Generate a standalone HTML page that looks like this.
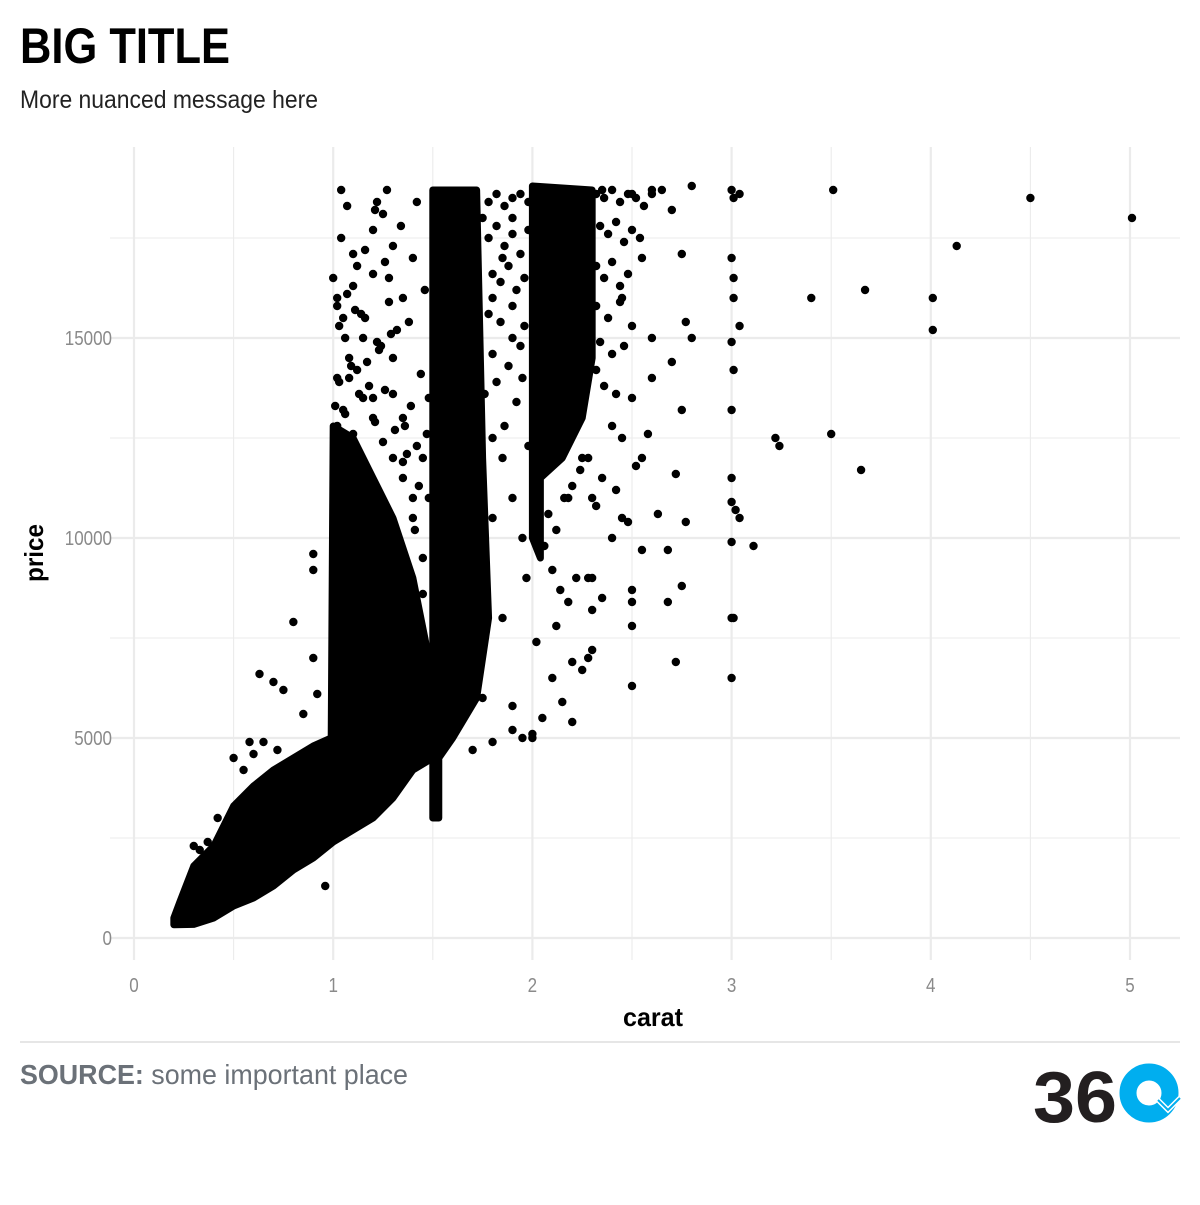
<!DOCTYPE html>
<html><head><meta charset="utf-8"><style>
body{margin:0;background:#fff;width:1200px;height:1200px;overflow:hidden;font-family:"Liberation Sans",sans-serif;}
</style></head><body>
<svg id="c" width="1200" height="1200" xmlns="http://www.w3.org/2000/svg" font-family="Liberation Sans, sans-serif">
<text x="20" y="63" font-size="50" font-weight="bold" fill="#000" textLength="210" lengthAdjust="spacingAndGlyphs">BIG TITLE</text>
<text x="20" y="108" font-size="25" fill="#222" textLength="298" lengthAdjust="spacingAndGlyphs">More nuanced message here</text>
<g id="grid"></g>
<g id="polys"></g>
<g id="pts"></g>
<g id="axes"></g>
<text x="653" y="1026" font-size="26" font-weight="bold" text-anchor="middle" textLength="60" lengthAdjust="spacingAndGlyphs">carat</text>
<text transform="translate(43,553) rotate(-90)" font-size="26" font-weight="bold" text-anchor="middle" textLength="58" lengthAdjust="spacingAndGlyphs">price</text>
<line x1="20" y1="1042" x2="1180" y2="1042" stroke="#ccc" stroke-width="1"/>
<text x="20" y="1084" font-size="28" fill="#6b7178" textLength="388" lengthAdjust="spacingAndGlyphs"><tspan font-weight="bold">SOURCE:</tspan> some important place</text>
<g>
<text x="1033" y="1122" font-size="72" font-weight="bold" fill="#231f20" textLength="84" lengthAdjust="spacingAndGlyphs">36</text>
<circle cx="1149" cy="1093" r="21" fill="none" stroke="#00aeef" stroke-width="17"/>
<path d="M1158 1100 l10 10 l12 -12" fill="none" stroke="#fff" stroke-width="5"/>
<path d="M1158 1100 l10 10 l12 -12" fill="none" stroke="#00aeef" stroke-width="2"/>
</g>
</svg>
<script>
const xTicks=[0,1,2,3,4,5];
const yTicks=[0,5000,10000,15000];
const polyMain=[[0.2,330],[0.3,340],[0.4,500],[0.5,800],[0.6,1000],[0.7,1300],[0.8,1700],[0.9,2000],[1.0,2400],[1.1,2700],[1.2,3000],[1.3,3500],[1.4,4200],[1.5,4500],[1.5,6500],[1.4,9000],[1.3,10500],[1.2,11500],[1.1,12500],[1.0,12800],[0.99,5000],[0.9,4800],[0.8,4500],[0.7,4200],[0.6,3800],[0.5,3300],[0.4,2300],[0.3,1800],[0.23,900],[0.2,500]];
const poly15=[[1.5,3000],[1.53,3000],[1.53,4500],[1.6,5000],[1.72,6000],[1.78,8000],[1.75,12000],[1.72,18700],[1.5,18700]];
const poly20=[[2.0,10000],[2.04,9500],[2.04,11500],[2.15,12000],[2.25,13000],[2.3,14500],[2.3,18700],[2.0,18800]];
const carat=[3.0,3.01,3.04,3.51,4.5,5.01,4.13,3.67,3.4,4.01,4.01,3.0,3.01,3.01,3.04,3.0,3.01,3.0,3.22,3.24,3.5,3.65,3.0,3.0,3.02,3.04,3.0,3.11,3.0,3.01,3.0,2.5,2.72,2.75,2.68,2.5,2.5,2.5,2.68,2.55,2.63,2.77,2.72,2.75,2.77,2.8,2.7,2.8,2.75,2.7,2.6,2.65,2.45,2.4,2.3,2.28,2.2,2.1,2.0,2.0,1.95,1.9,2.05,2.2,2.25,2.15,2.22,2.28,2.3,2.35,2.3,2.12,2.02,1.9,1.8,1.75,1.7,1.04,1.07,1.27,1.22,1.25,1.42,1.1,1.2,1.28,1.35,1.4,1.0,1.05,1.15,1.3,1.08,1.2,1.35,1.45,1.4,0.9,0.9,0.8,0.63,0.7,0.75,0.9,0.58,0.5,0.3,0.33,1.75,1.9,1.85,1.8,1.9,1.95,1.85,1.9,1.95,1.8,1.85,1.97,2.35,2.5,2.55,2.45,2.6,2.6,2.5,2.45,2.55,2.35,2.3,2.4,1.21,1.3,1.12,1.02,0.96,2.25,2.18,2.32,2.42,2.48,2.52,2.58,
1.02,1.05,1.1,1.15,1.2,1.25,1.3,1.35,1.4,1.45,1.02,1.08,1.12,1.18,1.24,1.3,1.36,1.42,1.48,1.06,1.14,1.22,1.32,1.44,1.02,1.1,1.2,1.28,1.38,1.48,1.04,1.16,1.26,1.34,1.46,
1.78,1.82,1.86,1.9,1.94,1.98,1.78,1.82,1.86,1.9,1.94,1.98,1.8,1.84,1.88,1.92,1.96,1.78,1.84,1.9,1.96,1.8,1.88,1.94,1.76,1.82,1.92,1.8,1.86,1.98,
2.32,2.36,2.4,2.44,2.48,2.52,2.56,2.6,2.34,2.38,2.42,2.46,2.5,2.54,2.32,2.36,2.4,2.44,2.48,2.32,2.38,2.44,2.5,2.34,2.4,2.46,2.32,2.36,2.42,2.06,2.1,2.14,2.18,2.08,2.12,2.16,2.2,2.24,2.28,
1.01,1.03,1.06,1.09,1.13,1.17,1.21,1.26,1.31,1.37,1.43,1.03,1.07,1.11,1.16,1.23,1.29,1.39,1.47,1.41,1.45,1.35,0.55,0.6,0.65,0.72,0.85,0.92,0.95,0.42,0.45,0.37];
const price=[18700,18500,18600,18700,18500,18000,17300,16200,16000,16000,15200,17000,16500,16000,15300,14900,14200,13200,12500,12300,12600,11700,11500,10900,10700,10500,9900,9800,8000,8000,6500,6300,6900,8800,8400,8400,7800,8700,9700,9700,10600,10400,11600,13200,15400,15000,14400,18800,17100,18200,18700,18700,10500,12800,7200,7000,6900,6500,5100,5000,5000,5200,5500,5400,6700,5900,9000,9000,9000,8500,8200,7800,7400,5800,4900,6000,4700,18700,18300,18700,18400,18100,18400,17100,17700,16500,16000,17000,16500,15500,15000,14500,14000,13500,13000,12000,11000,9600,9200,7900,6600,6400,6200,7000,4900,4500,2300,2200,18000,18000,17000,16000,15000,14000,12000,11000,10000,10500,8000,9000,18700,18600,17000,16000,15000,14000,13500,12500,12000,11500,11000,10000,18200,17300,16800,15800,1300,12000,11000,10800,11200,10400,11800,12600,
12800,13200,12600,13500,13000,12400,12000,11500,10500,9500,14000,14500,14200,13800,14800,13600,12800,12300,11000,15000,15600,14900,15200,14100,16000,16300,16600,15900,15400,13500,17500,17200,16900,17800,16200,
18400,18600,18300,18500,18600,18400,17500,17800,17300,17600,17100,17700,16600,16400,16800,16200,16500,15600,15400,15800,15300,14600,14300,14800,13600,13900,13400,12500,12800,12300,
18600,18500,18700,18400,18600,18500,18300,18600,17800,17600,17900,17400,17700,17500,16800,16500,16900,16300,16600,15800,15500,15900,15300,14900,14600,14800,14200,13800,13600,9800,9200,8700,8400,10600,10200,11000,11300,11700,12000,
13300,13900,13100,14300,13600,14400,12900,13700,12700,12100,11300,15300,16100,15700,15500,14700,15100,13300,12600,10200,8600,11900,4200,4600,4900,4700,5600,6100,4300,3000,2700,2400];
const ns="http://www.w3.org/2000/svg";
const X=v=>134+v*199.2, Y=v=>938-v*0.04;
const grid=document.getElementById('grid');
function ln(x1,y1,x2,y2,w){const l=document.createElementNS(ns,'line');l.setAttribute('x1',x1);l.setAttribute('y1',y1);l.setAttribute('x2',x2);l.setAttribute('y2',y2);l.setAttribute('stroke','#ebebeb');l.setAttribute('stroke-width',w);


grid.appendChild(l);}
for(let i=0;i<xTicks.length;i++){ln(X(xTicks[i]),147,X(xTicks[i]),960,2.2);ln(X(xTicks[i]+0.5),147,X(xTicks[i]+0.5),960,1.1);}
for(let i=0;i<yTicks.length;i++){ln(110,Y(yTicks[i]),1180,Y(yTicks[i]),2.2);ln(110,Y(yTicks[i]+2500),1180,Y(yTicks[i]+2500),1.1);}
const axes=document.getElementById('axes');
function tx(x,y,s,a,nm){const t=document.createElementNS(ns,'text');t.setAttribute('x',x);t.setAttribute('y',y);t.setAttribute('font-size','20');t.setAttribute('fill','#8a8a8a');t.setAttribute('text-anchor',a);t.setAttribute('font-family','Liberation Sans, sans-serif');t.setAttribute('transform','translate('+x+' 0) scale(0.85 1) translate('+(-x)+' 0)');t.textContent=s;


axes.appendChild(t);}
xTicks.forEach(v=>tx(X(v),992,String(v),'middle','x-tick-label'));
yTicks.forEach(v=>tx(112,Y(v)+7,String(v),'end','y-tick-label'));
const pg=document.getElementById('polys');
[polyMain,poly15,poly20].forEach(p=>{const e=document.createElementNS(ns,'polygon');e.setAttribute('points',p.map(q=>X(q[0])+','+Y(q[1])).join(' '));e.setAttribute('fill','#000');e.setAttribute('stroke','#000');e.setAttribute('stroke-width','7');e.setAttribute('stroke-linejoin','round');


pg.appendChild(e);});
const pts=document.getElementById('pts');
for(let i=0;i<carat.length;i++){const c=document.createElementNS(ns,'circle');c.setAttribute('cx',X(carat[i]));c.setAttribute('cy',Y(price[i]));c.setAttribute('r','4.2');c.setAttribute('fill','#000');


pts.appendChild(c);}
</script>
</body></html>
